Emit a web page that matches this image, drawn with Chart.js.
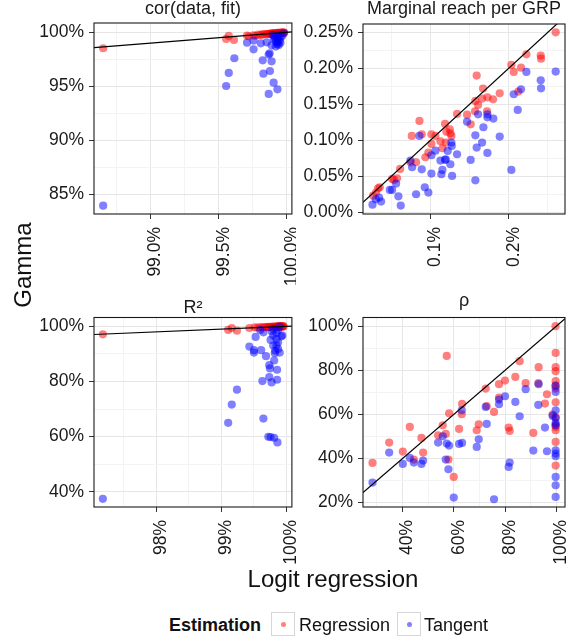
<!DOCTYPE html>
<html>
<head>
<meta charset="utf-8">
<script src="https://cdn.jsdelivr.net/npm/chart.js@4.4.1/dist/chart.umd.min.js"></script>
<style>
  body { margin: 0; background: #fff; font-family: "Liberation Sans", Arial, sans-serif; color: #111; }
  #wrap { position: relative; width: 576px; height: 638px; overflow: hidden; }
  .panel { position: absolute; }
  .lab { position: absolute; white-space: nowrap; }
  #yTitle { left: -77.5px; top: 249.5px; width: 200px; height: 30px; line-height: 30px; text-align: center; font-size: 24px; transform: rotate(-90deg); }
  #xTitle { left: 183px; top: 564px; width: 300px; height: 30px; line-height: 30px; text-align: center; font-size: 24px; }
  .leg { top: 610px; height: 30px; line-height: 30px; font-size: 18px; }
  .key { position: absolute; top: 612px; width: 24px; height: 24px; box-sizing: border-box; border: 1px solid #d6d6d6; background: #fff; }
  .key span { position: absolute; left: 9px; top: 9px; width: 5px; height: 5px; border-radius: 50%; }
</style>
</head>
<body>
<div id="wrap">
  <div class="panel" style="left:0;top:0;width:296px;height:290px"><canvas id="corChart"></canvas></div>
  <div class="panel" style="left:296px;top:0;width:280px;height:290px"><canvas id="reachChart"></canvas></div>
  <div class="panel" style="left:0;top:290px;width:296px;height:293px"><canvas id="r2Chart"></canvas></div>
  <div class="panel" style="left:296px;top:290px;width:280px;height:293px"><canvas id="rhoChart"></canvas></div>

  <div id="yTitle" class="lab">Gamma</div>
  <div id="xTitle" class="lab">Logit regression</div>

  <div class="lab leg" style="left:169px;font-weight:bold">Estimation</div>
  <div class="key" style="left:271px"><span style="background:rgba(255,0,0,0.5)"></span></div>
  <div class="lab leg" style="left:299px">Regression</div>
  <div class="key" style="left:397px"><span style="background:rgba(0,0,255,0.5)"></span></div>
  <div class="lab leg" style="left:424px">Tangent</div>
</div>
<script>
// cor(data, fit), values in %
const corRegX = [98.652, 99.554, 99.573, 99.611, 99.707, 99.72, 99.755, 99.77, 99.79, 99.808, 99.82, 99.835, 99.851, 99.86, 99.87, 99.88, 99.887, 99.895, 99.902, 99.91, 99.918, 99.925, 99.93, 99.935, 99.94, 99.945, 99.952, 99.958, 99.964, 99.97, 99.976, 99.98];
const corRegY = [98.52, 99.38, 99.66, 99.29, 99.69, 99.62, 99.72, 99.68, 99.78, 99.75, 99.8, 99.83, 99.82, 99.86, 99.84, 99.88, 99.9, 99.87, 99.91, 99.89, 99.93, 99.9, 99.94, 99.92, 99.95, 99.93, 99.96, 99.94, 99.97, 99.96, 99.98, 99.97];
const corTanX = [98.652, 99.554, 99.573, 99.614, 99.707, 99.755, 99.755, 99.808, 99.822, 99.827, 99.851, 99.866, 99.873, 99.875, 99.866, 99.887, 99.887, 99.902, 99.93, 99.918, 99.928, 99.94, 99.952, 99.904, 99.916, 99.94, 99.964, 99.976, 99.894, 99.928, 99.952, 99.935, 99.92, 99.93, 99.945, 99.91];
const corTanY = [83.92, 95.02, 96.23, 97.59, 99.04, 99.23, 98.42, 98.98, 97.4, 96.16, 99.07, 97.93, 98.05, 96.41, 94.28, 97.31, 98.79, 95.33, 94.71, 98.67, 99.04, 98.82, 99.04, 99.35, 99.6, 99.75, 99.66, 99.9, 99.75, 99.44, 99.54, 99.29, 99.15, 98.9, 99.2, 99.5];

// Marginal reach per GRP, values in %
const reachRegX = [0.26, 0.2226, 0.2409, 0.2413, 0.2034, 0.2157, 0.2064, 0.2123, 0.1591, 0.1672, 0.1885, 0.166, 0.1728, 0.18, 0.1574, 0.1609, 0.157, 0.1723, 0.134, 0.1468, 0.1514, 0.086, 0.1187, 0.1247, 0.1204, 0.1255, 0.1268, 0.0762, 0.0889, 0.1013, 0.1064, 0.1013, 0.1128, 0.1196, 0.1153, 0.0974, 0.0936, 0.0745, 0.0817, 0.0613, 0.0574, 0.0511, 0.0536, 0.0353, 0.0332, 0.0306, 0.0268];
const reachRegY = [0.25, 0.2194, 0.2176, 0.2134, 0.2046, 0.2009, 0.1949, 0.1676, 0.1898, 0.1718, 0.1653, 0.1579, 0.1597, 0.1569, 0.1546, 0.1491, 0.1403, 0.1403, 0.1366, 0.1356, 0.1222, 0.1269, 0.1227, 0.1153, 0.112, 0.1097, 0.106, 0.106, 0.1083, 0.1083, 0.106, 0.0949, 0.0986, 0.0968, 0.0889, 0.0829, 0.0764, 0.0694, 0.0694, 0.0602, 0.0472, 0.0463, 0.0449, 0.0347, 0.0333, 0.0273, 0.0231];
const reachTanX = [0.26, 0.2226, 0.2409, 0.2413, 0.2157, 0.2064, 0.2115, 0.1728, 0.1609, 0.1728, 0.1804, 0.1468, 0.1677, 0.1574, 0.1885, 0.086, 0.166, 0.1268, 0.1272, 0.1591, 0.1064, 0.1221, 0.1728, 0.1013, 0.134, 0.1128, 0.1187, 0.1196, 0.1514, 0.0745, 0.0766, 0.1255, 0.0889, 0.1153, 0.2034, 0.1013, 0.114, 0.1277, 0.1574, 0.0562, 0.0511, 0.0481, 0.0928, 0.0817, 0.0974, 0.0591, 0.0345, 0.0302, 0.037, 0.026, 0.0621];
const reachTanY = [0.1954, 0.1949, 0.1833, 0.1722, 0.1708, 0.1639, 0.1421, 0.1361, 0.1361, 0.1319, 0.1301, 0.1259, 0.1181, 0.1069, 0.1051, 0.106, 0.0968, 0.0968, 0.0921, 0.0898, 0.0856, 0.0852, 0.0824, 0.0792, 0.0806, 0.0718, 0.0727, 0.0736, 0.0727, 0.0718, 0.0625, 0.0667, 0.0597, 0.0588, 0.0588, 0.0537, 0.0528, 0.0505, 0.0444, 0.0398, 0.031, 0.031, 0.0347, 0.025, 0.0273, 0.0222, 0.0204, 0.0181, 0.0148, 0.0106, 0.0093];

// R squared, values in %
const r2RegX = [97.176, 99.106, 99.161, 99.241, 99.432, 99.513, 99.56, 99.6, 99.64, 99.67, 99.7, 99.72, 99.74, 99.76, 99.78, 99.8, 99.815, 99.83, 99.845, 99.86, 99.87, 99.88, 99.89, 99.9, 99.91, 99.92, 99.93, 99.94, 99.95, 99.96];
const r2RegY = [97.11, 98.68, 99.4, 98.44, 99.4, 99.64, 99.5, 99.7, 99.6, 99.75, 99.7, 99.8, 99.75, 99.85, 99.8, 99.88, 99.82, 99.9, 99.86, 99.93, 99.9, 99.95, 99.92, 99.96, 99.94, 99.97, 99.95, 99.98, 99.97, 99.99];
const r2TanX = [97.176, 99.106, 99.161, 99.241, 99.432, 99.503, 99.503, 99.528, 99.613, 99.633, 99.648, 99.688, 99.739, 99.749, 99.739, 99.774, 99.724, 99.759, 99.814, 99.864, 99.859, 99.859, 99.814, 99.759, 99.799, 99.849, 99.874, 99.824, 99.899, 99.874, 99.849, 99.94, 99.925, 99.799, 99.829, 99.799, 99.874, 99.598, 99.648, 99.899, 99.849, 99.774];
const r2TanY = [37.48, 65.01, 71.62, 77.04, 92.67, 91.34, 90.5, 96.15, 91.34, 80.16, 66.57, 89.18, 85.93, 84.73, 81.6, 79.68, 59.96, 59.84, 59.6, 57.92, 80.64, 84.25, 87.62, 95.07, 96.63, 95.43, 94.23, 90.26, 90.5, 91.82, 93.03, 96.63, 96.39, 93.03, 91.22, 99.04, 98.68, 98.68, 97.84, 99.88, 97.48, 98.2];

// rho, values in %
const rhoRegX = [28.31, 34.81, 40.13, 42.86, 44.42, 47.4, 48.05, 53.9, 55.71, 56.88, 57.27, 58.18, 57.92, 60.0, 62.08, 63.25, 63.12, 68.96, 69.74, 72.47, 72.86, 75.71, 77.66, 77.66, 80.0, 81.43, 81.82, 84.03, 85.71, 88.05, 91.04, 93.12, 92.99, 95.58, 96.36, 98.57, 99.7, 99.75, 99.75, 99.75, 99.75, 99.75, 99.75, 99.75, 99.75, 99.75, 99.75, 99.75, 99.75, 99.75];
const rhoRegY = [38.0, 47.22, 43.14, 54.33, 39.51, 49.34, 42.68, 50.55, 55.09, 51.15, 86.54, 60.53, 39.51, 31.64, 53.42, 64.76, 60.07, 52.82, 55.54, 71.72, 63.71, 61.13, 73.69, 67.64, 75.35, 54.03, 52.51, 77.01, 84.12, 74.14, 51.61, 81.4, 74.14, 64.92, 69.15, 59.92, 100, 87.9, 81.4, 79.6, 75.05, 73.23, 71.72, 65.52, 58.71, 55.39, 54.33, 52.82, 47.52, 36.79];
const rhoTanX = [28.31, 34.81, 40.13, 42.86, 44.42, 47.4, 48.05, 53.9, 55.71, 56.88, 57.27, 58.18, 57.92, 60.0, 62.08, 63.25, 63.12, 68.96, 69.74, 72.47, 72.86, 75.71, 77.66, 77.66, 80.0, 81.43, 81.82, 84.03, 85.71, 88.05, 91.04, 93.12, 92.99, 95.58, 96.36, 98.57, 99.7, 99.75, 99.75, 99.75, 99.75, 99.75, 99.75, 99.75, 99.75, 99.75, 99.75, 99.75];
const rhoTanY = [29.07, 42.68, 37.54, 40.27, 38.15, 37.54, 39.05, 47.22, 50.1, 39.51, 46.77, 45.86, 35.12, 22.27, 46.62, 47.07, 61.89, 45.26, 48.73, 63.4, 55.69, 21.51, 64.61, 66.73, 68.24, 36.18, 38.15, 65.67, 59.17, 71.42, 43.59, 73.69, 64.31, 54.03, 43.29, 59.32, 72.93, 70.21, 61.89, 58.41, 56.14, 55.09, 43.74, 42.23, 41.02, 31.64, 27.86, 22.57];

const FONT = '"Liberation Sans", Arial, sans-serif';
const RED = 'rgba(255,0,0,0.5)';
const BLUE = 'rgba(0,0,255,0.5)';

Chart.defaults.font.family = FONT;

function pts(xs, ys) {
    return xs.map((x, i) => ({ x: x, y: ys[i] }));
}

function isMajor(v, step) {
    const r = v / step;
    return Math.abs(r - Math.round(r)) < 1e-6;
}

// black box around each panel
const framePlugin = {
    id: 'frame',
    afterDraw(chart) {
        const a = chart.chartArea;
        const ctx = chart.ctx;
        ctx.save();
        ctx.strokeStyle = '#1a1a1a';
        ctx.lineWidth = 1.1;
        ctx.strokeRect(a.left, a.top, a.right - a.left, a.bottom - a.top);
        ctx.restore();
    }
};

function axis(ax, dir) {
    const isX = dir === 'x';
    return {
        type: 'linear',
        min: ax.min,
        max: ax.max,
        border: { display: false },
        grid: {
            color: c => (c.tick && isMajor(c.tick.value, ax.major)) ? '#e6e6e6' : '#f3f3f3',
            lineWidth: 1,
            tickLength: 5,
            tickWidth: 1,
            tickColor: c => (c.tick && isMajor(c.tick.value, ax.major)) ? '#333' : 'rgba(0,0,0,0)'
        },
        ticks: {
            stepSize: ax.minor,
            includeBounds: false,
            autoSkip: false,
            color: '#1a1a1a',
            font: { size: 17.5 },
            padding: isX ? 8 : 5,
            minRotation: isX ? 90 : 0,
            maxRotation: isX ? 90 : 0,
            labelOffset: isX ? 5 : 0,
            callback: v => isMajor(v, ax.major) ? ax.fmt(v) : ''
        },
        afterFit: s => {
            if (isX) {
                s.height = ax.size;
                s.paddingLeft = 0;
                s.paddingRight = 0;
            } else {
                s.width = ax.size;
                s.paddingTop = 0;
                s.paddingBottom = 0;
            }
        }
    };
}

function drawPanel(id, p) {
    new Chart(document.getElementById(id), {
        type: 'scatter',
        data: {
            datasets: [
                {
                    type: 'line',
                    data: [{ x: p.x.min, y: p.x.min }, { x: p.x.max, y: p.x.max }],
                    borderColor: '#000',
                    borderWidth: 1.2,
                    pointRadius: 0,
                    showLine: true,
                    fill: false
                },
                { label: 'Tangent', data: pts(p.tanX, p.tanY), backgroundColor: BLUE, borderWidth: 0, pointRadius: 4.1 },
                { label: 'Regression', data: pts(p.regX, p.regY), backgroundColor: RED, borderWidth: 0, pointRadius: 4.1 }
            ]
        },
        options: {
            responsive: true,
            maintainAspectRatio: false,
            animation: false,
            devicePixelRatio: 1,
            layout: { padding: { left: 0, right: p.padRight, top: 0, bottom: 0 } },
            plugins: {
                legend: { display: false },
                tooltip: { enabled: false },
                title: {
                    display: true,
                    fullSize: false,
                    text: p.title,
                    color: '#1a1a1a',
                    font: { size: 18, weight: 'normal', lineHeight: 1 },
                    padding: p.titlePad
                }
            },
            scales: {
                x: axis(p.x, 'x'),
                y: axis(p.y, 'y')
            }
        },
        plugins: [framePlugin]
    });
}

const pct0 = v => v.toFixed(0) + '%';
const pct1 = v => v.toFixed(1) + '%';
const pct2 = v => v.toFixed(2) + '%';

drawPanel('corChart', {
    title: 'cor(data, fit)',
    titlePad: { top: 0, bottom: 5 },
    padRight: 1,
    regX: corRegX, regY: corRegY, tanX: corTanX, tanY: corTanY,
    x: { min: 98.585, max: 100.036, major: 0.5, minor: 0.25, fmt: pct1, size: 76 },
    y: { min: 83.15, max: 100.86, major: 5, minor: 2.5, fmt: pct0, size: 94 }
});

drawPanel('reachChart', {
    title: 'Marginal reach per GRP',
    titlePad: { top: 0, bottom: 6 },
    padRight: 11,
    regX: reachRegX, regY: reachRegY, tanX: reachTanX, tanY: reachTanY,
    x: { min: 0.0139, max: 0.2719, major: 0.1, minor: 0.05, fmt: pct1, size: 76 },
    y: { min: -0.0024, max: 0.2615, major: 0.05, minor: 0.025, fmt: pct2, size: 67 }
});

drawPanel('r2Chart', {
    title: 'R²',
    titlePad: { top: 9, bottom: 0.5 },
    padRight: 1,
    regX: r2RegX, regY: r2RegY, tanX: r2TanX, tanY: r2TanY,
    x: { min: 97.04, max: 100.087, major: 1, minor: 0.5, fmt: pct0, size: 76 },
    y: { min: 34.5, max: 103.2, major: 20, minor: 10, fmt: pct0, size: 94 }
});

drawPanel('rhoChart', {
    title: 'ρ',
    titlePad: { top: 2.2, bottom: 7.3 },
    padRight: 11,
    regX: rhoRegX, regY: rhoRegY, tanX: rhoTanX, tanY: rhoTanY,
    x: { min: 24.6, max: 103.4, major: 20, minor: 10, fmt: pct0, size: 76 },
    y: { min: 18.0, max: 103.95, major: 20, minor: 10, fmt: pct0, size: 67 }
});
</script>
</body>
</html>
